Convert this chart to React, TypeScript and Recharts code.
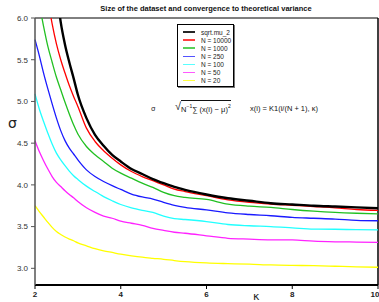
import { LineChart, Line, XAxis, YAxis, ReferenceLine } from "recharts"

// kappa grid and sigma estimates
const kappa = [2.0, 2.1, 2.2, 2.3, 2.4, 2.5, 2.6, 2.7, 2.8, 2.9, 3.0, 3.2, 3.4, 3.6, 3.8, 4.0, 4.25, 4.5, 4.75, 5.0, 5.25, 5.5, 6.0, 6.5, 7.0, 7.5, 8.0, 8.5, 9.0, 9.5, 10]

const sqrtMu2 = [null, null, null, null, null, 6.35, 5.95, 5.68, 5.47, 5.28, 5.08, 4.8, 4.6, 4.47, 4.36, 4.28, 4.19, 4.13, 4.07, 4.02, 3.975, 3.94, 3.885, 3.84, 3.81, 3.78, 3.765, 3.75, 3.74, 3.73, 3.72]
const n10000 = [null, null, null, 6.22, 5.93, 5.69, 5.5, 5.34, 5.19, 5.06, 4.94, 4.68, 4.52, 4.41, 4.32, 4.24, 4.16, 4.1, 4.05, 4.0, 3.95, 3.92, 3.87, 3.82, 3.79, 3.77, 3.755, 3.74, 3.725, 3.705, 3.695]
const n1000 = [null, 6.17, 5.9, 5.66, 5.47, 5.29, 5.14, 4.99, 4.85, 4.72, 4.61, 4.46, 4.36, 4.28, 4.2, 4.14, 4.08, 4.02, 3.97, 3.91, 3.87, 3.85, 3.825, 3.77, 3.745, 3.73, 3.705, 3.685, 3.67, 3.66, 3.653]
const n250 = [5.74, 5.55, 5.34, 5.15, 4.97, 4.8, 4.65, 4.53, 4.44, 4.37, 4.3, 4.18, 4.1, 4.04, 3.99, 3.945, 3.89, 3.855, 3.83, 3.79, 3.755, 3.73, 3.7, 3.665, 3.645, 3.63, 3.61, 3.6, 3.59, 3.575, 3.57]
const n100 = [5.09, 4.91, 4.76, 4.62, 4.49, 4.38, 4.3, 4.23, 4.165, 4.11, 4.065, 3.985, 3.92, 3.86, 3.81, 3.765, 3.725, 3.695, 3.67, 3.625, 3.595, 3.585, 3.56, 3.525, 3.51, 3.5, 3.485, 3.47, 3.468, 3.463, 3.46]
const n50 = [4.53, 4.4, 4.29, 4.19, 4.1, 4.03, 3.98, 3.93, 3.885, 3.845, 3.8, 3.725, 3.67, 3.625, 3.6, 3.565, 3.54, 3.515, 3.48, 3.455, 3.432, 3.42, 3.39, 3.36, 3.35, 3.342, 3.34, 3.325, 3.318, 3.315, 3.312]
const n20 = [3.75, 3.68, 3.615, 3.55, 3.49, 3.44, 3.405, 3.375, 3.35, 3.33, 3.305, 3.27, 3.235, 3.21, 3.19, 3.17, 3.15, 3.133, 3.12, 3.108, 3.093, 3.08, 3.064, 3.056, 3.05, 3.04, 3.035, 3.032, 3.025, 3.018, 3.013]

const xTicks = [2, 4, 6, 8, 10]
const yTicks = [3.0, 3.5, 4.0, 4.5, 5.0, 5.5, 6.0]

const series = [
  { key: "s0", name: "sqrt.mu_2", values: sqrtMu2, color: "#000000", width: 2.4 },
  { key: "s1", name: "N = 10000", values: n10000, color: "#ff0000", width: 1.3 },
  { key: "s2", name: "N = 1000", values: n1000, color: "#22c022", width: 1.3 },
  { key: "s3", name: "N = 250", values: n250, color: "#1a1aff", width: 1.3 },
  { key: "s4", name: "N = 100", values: n100, color: "#22ffff", width: 1.3 },
  { key: "s5", name: "N = 50", values: n50, color: "#ff22ff", width: 1.3 },
  { key: "s6", name: "N = 20", values: n20, color: "#ffff00", width: 1.3 },
]

const data = kappa.map((k, i) => {
  const row: Record<string, number | null> = { k }
  series.forEach((s) => (row[s.key] = s.values[i]))
  return row
})

const font = "'Liberation Sans', Arial, sans-serif"

export default function App() {
  return (
    <div style={{ position: "fixed", left: 0, top: 0, width: 379, height: 302, background: "#fff", fontFamily: font, overflow: "hidden" }}>
      <LineChart width={379} height={302} data={data} margin={{ top: 18, right: 1, left: 0, bottom: 0 }}>
        <XAxis
          dataKey="k"
          type="number"
          domain={[2, 10]}
          ticks={xTicks}
          height={17}
          tickSize={4}
          tickMargin={2}
          axisLine={{ stroke: "#000", strokeWidth: 2 }}
          tickLine={{ stroke: "#000" }}
          tick={{ fontSize: 8, fontWeight: "bold", fill: "#222", fontFamily: font }}
        />
        <YAxis
          type="number"
          domain={[2.8, 6]}
          allowDataOverflow
          ticks={yTicks}
          width={35}
          tickSize={4}
          tickMargin={3}
          tickFormatter={(v: number) => v.toFixed(1)}
          axisLine={{ stroke: "#555", strokeWidth: 1.5 }}
          tickLine={{ stroke: "#555" }}
          tick={{ fontSize: 8, fill: "#333", fontFamily: font }}
        />
        <ReferenceLine y={6} stroke="#000" strokeWidth={1} />
        <ReferenceLine x={10} stroke="#000" strokeWidth={1.5} />
        {series.slice().reverse().map((s) => (
          <Line
            key={s.key}
            dataKey={s.key}
            stroke={s.color}
            strokeWidth={s.width}
            dot={false}
            isAnimationActive={false}
            type="monotone"
          />
        ))}
      </LineChart>

      <div style={{ position: "absolute", left: 0, width: 412, top: 4, textAlign: "center", fontSize: 7.5, fontWeight: "bold", color: "#111" }}>
        Size of the dataset and convergence to theoretical variance
      </div>

      <div style={{ position: "absolute", left: 177, top: 24, width: 57, height: 63, border: "1px solid #000", boxShadow: "1px 1px 0 #777", background: "#fff", paddingTop: 3, boxSizing: "border-box" }}>
        {series.map((s) => (
          <div key={s.key} style={{ display: "flex", alignItems: "center", height: 8.1 }}>
            <div style={{ marginLeft: 5, width: 12, height: 1.5, background: s.color, opacity: s.key === "s0" ? 0.85 : 0.75 }} />
            <span style={{ marginLeft: 6, fontSize: 6.5, color: "#222", whiteSpace: "nowrap" }}>{s.name}</span>
          </div>
        ))}
      </div>

      <div style={{ position: "absolute", left: 8, top: 115, fontSize: 14, color: "#222", fontFamily: "'DejaVu Sans', sans-serif" }}>σ</div>
      <div style={{ position: "absolute", left: 253, top: 290, fontSize: 11, color: "#222", fontFamily: "'DejaVu Sans', sans-serif" }}>κ</div>

      <div style={{ position: "absolute", left: 151, top: 105, fontSize: 7, color: "#222", fontFamily: "'DejaVu Sans', sans-serif" }}>σ</div>
      <div style={{ position: "absolute", left: 175, top: 100, fontSize: 7.5, color: "#111", display: "flex", alignItems: "flex-start", whiteSpace: "nowrap" }}>
        <span style={{ fontSize: 11, lineHeight: "12px" }}>√</span>
        <span style={{ borderTop: "1px solid #111", paddingTop: 1, lineHeight: "9px" }}>
          N<sup style={{ fontSize: 5 }}>−1</sup>∑ (x(i) − μ)<sup style={{ fontSize: 5 }}>2</sup>
        </span>
      </div>
      <div style={{ position: "absolute", left: 250, top: 104, fontSize: 7.5, color: "#111", whiteSpace: "nowrap" }}>
        x(i) = K1(i/(N + 1), κ)
      </div>
    </div>
  )
}
